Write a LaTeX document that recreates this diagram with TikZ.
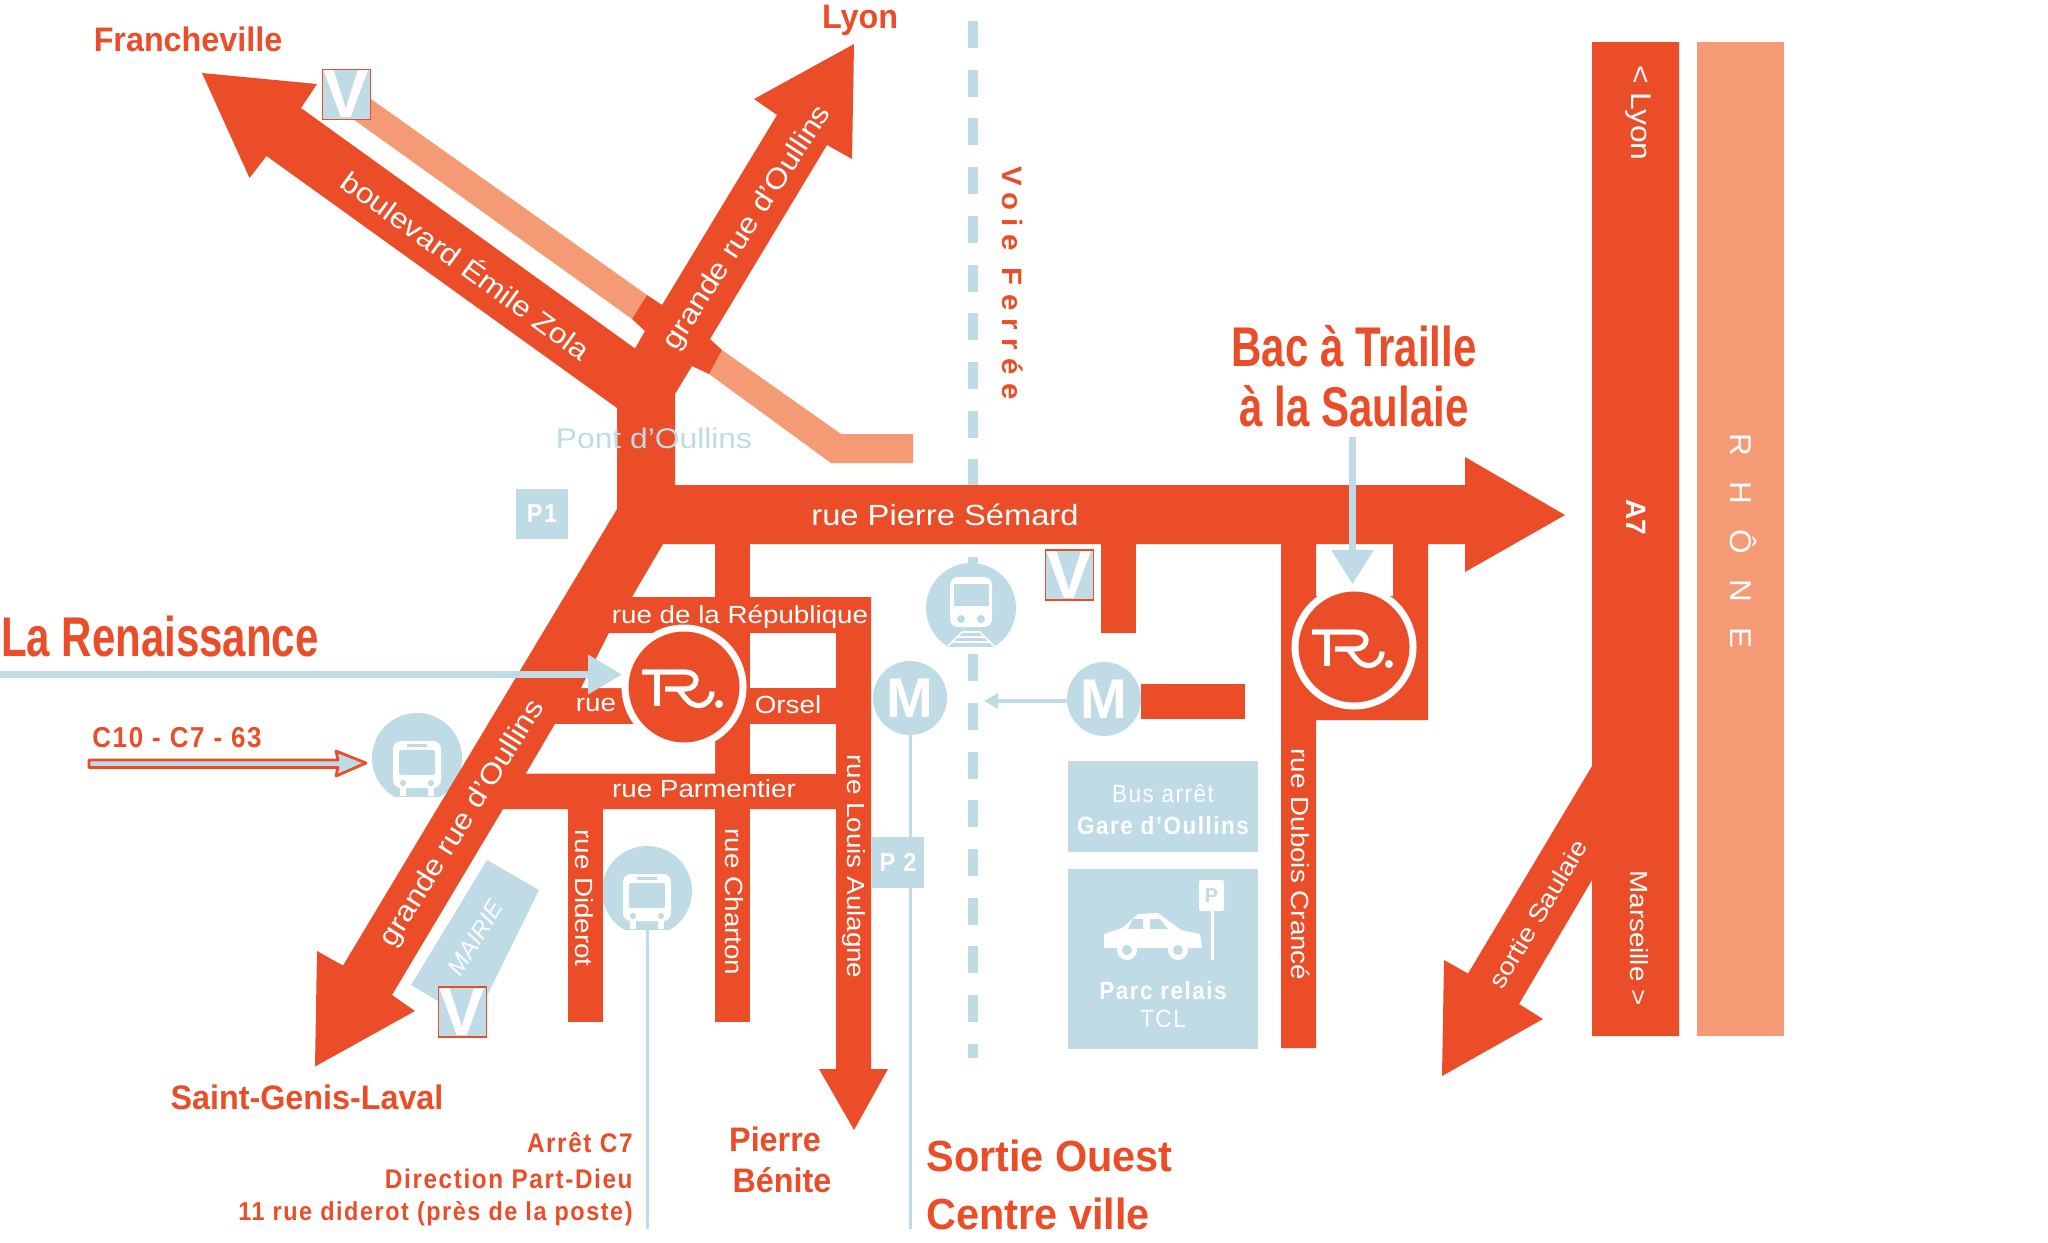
\documentclass[tikz,border=0pt]{standalone}
\usepackage{fontspec}
\usepackage{tikz}
\usetikzlibrary{arrows.meta}
\setmainfont{Liberation Sans}
\newfontfamily\widefont[FakeStretch=1.12]{Liberation Sans}
\newfontfamily\titlefont[FakeStretch=.75]{Liberation Sans}
\newfontfamily\namefont[FakeStretch=.95]{Liberation Sans}
\newfontfamily\condfont[FakeStretch=.9,LetterSpace=6]{Liberation Sans}
\newfontfamily\railfont[FakeStretch=1.05,LetterSpace=30]{Liberation Sans}
\newfontfamily\riverfont[FakeStretch=1.05,LetterSpace=85]{Liberation Sans}
\definecolor{roadred}{HTML}{EA4D27}
\definecolor{salmon}{HTML}{F49B76}
\definecolor{paleblue}{HTML}{BEDBE6}
\tikzset{
	road/.style={fill=roadred},
	band/.style={fill=salmon},
	block/.style={fill=paleblue},
	streetlabel/.style={text=white,inner sep=0pt,font=\widefont\fontsize{12.4}{14}\selectfont},
	bigstreet/.style={text=white,inner sep=0pt,font=\widefont\fontsize{14.2}{16}\selectfont},
	titlelabel/.style={text=roadred,inner sep=0pt,align=center,font=\titlefont\bfseries\fontsize{28}{30}\selectfont},
	namelabel/.style={text=roadred,inner sep=0pt,align=center,font=\namefont\bfseries\fontsize{17}{19}\selectfont},
	infolabel/.style={text=roadred,inner sep=0pt,font=\condfont\bfseries\fontsize{13.5}{15}\selectfont},
	boxlabel/.style={text=white,inner sep=0pt,font=\condfont\fontsize{12.5}{14}\selectfont},
	logodisc/.style={circle,fill=roadred,draw=white,line width=3.5pt,minimum size=59pt,inner sep=0pt,outer sep=0pt},
	metrodisc/.style={circle,fill=paleblue,text=white,minimum size=37pt,inner sep=0pt,font=\bfseries\fontsize{28}{28}\selectfont},
	vbox/.style={fill=paleblue,draw=roadred,line width=.9pt,text=white,minimum width=24pt,minimum height=25pt,inner sep=0pt,font=\bfseries\fontsize{34}{34}\selectfont},
	pbox/.style={fill=paleblue,text=white,minimum width=26pt,inner sep=0pt,font=\condfont\bfseries\fontsize{13}{14}\selectfont},
	linkline/.style={draw=paleblue,line width=1.5pt},
	pointer/.style={draw=paleblue,line width=3.5pt},
}
% logo and stop icons, drawn around a named point
\newcommand{\logomark}[1]{
	\begin{scope}[shift={(#1)},draw=white,line width=2.6pt]
		\draw (-42,-15) -- (1,-15) .. controls (8,-15) and (12,-11) .. (12,-7) .. controls (12,-2) and (8,2) .. (1,2) -- (-19,2);
		\draw (-27,-15) -- (-27,19);
		\draw (-6,2) .. controls (0,8) and (4,18) .. (14,18.5) .. controls (22,19) and (28,12) .. (28,4.5);
		\fill[white] (35,17) circle[radius=4];
	\end{scope}
}
\newcommand{\stopdisc}{
	\begin{scope}
		\clip (-50,-50) rectangle (50,38);
		\fill[paleblue] (0,0) circle[radius=45];
	\end{scope}
}
\newcommand{\busicon}[1]{
	\begin{scope}[shift={(#1)}]
		\stopdisc
		\fill[white,rounded corners=4pt] (-24,-17) rectangle (24,30);
		\fill[white] (-17,30) rectangle (-11,38);
		\fill[white] (11,30) rectangle (17,38);
		\fill[paleblue,rounded corners=1pt] (-18,-8) rectangle (18,17);
		\fill[paleblue] (-10,-14.5) rectangle (10,-11.5);
		\fill[paleblue] (-14,25) circle[radius=3];
		\fill[paleblue] (14,25) circle[radius=3];
	\end{scope}
}
\newcommand{\trainicon}[1]{
	\begin{scope}[shift={(#1)}]
		\stopdisc
		\fill[white,rounded corners=4pt] (-21,-31) rectangle (21,19);
		\fill[paleblue] (-17.5,-24) rectangle (17.5,-2);
		\fill[paleblue] (-10,11) circle[radius=4];
		\fill[paleblue] (10,11) circle[radius=4];
		\draw[white,line width=.8pt] (-23,38) -- (-9,24) -- (9,24) -- (23,38);
		\draw[white,line width=.8pt] (-14,29) -- (14,29) (-19,34) -- (19,34);
	\end{scope}
}
\begin{document}
\begin{tikzpicture}[x=.5pt,y=-.5pt]
	\useasboundingbox (0,0) rectangle (2048,1242);
	% railway
	\draw[paleblue,line width=5pt,dash pattern=on 13.5pt off 10.85pt] (973,21) -- (973,1058);
	% stops
	\coordinate (busA) at (417,758);
	\coordinate (busB) at (647,891);
	\coordinate (trainStop) at (971,608);
	\busicon{busA}
	\busicon{busB}
	\trainicon{trainStop}
	% salmon bands
	\fill[band] (371,99) -- (647,295) -- (632,319) -- (353,119) -- cycle;
	\fill[band] (722,350) -- (841,434) -- (913,434) -- (913,463) -- (831,463) -- (709,374) -- cycle;
	\fill[band] (1697,42) rectangle (1784,1036);
	% main roads
	\fill[road] (202,73) -- (317,84) -- (301,108) -- (635,348.5) -- (645,331) -- (632,319) -- (647,295) -- (662,305)
		-- (777,115) -- (754,99) -- (854,44) -- (852,159) -- (827,145) -- (710,339) -- (722,350) -- (709,374)
		-- (692,366) -- (675,394) -- (675,485) -- (1465,485) -- (1465,457) -- (1565,515) -- (1465,572) -- (1465,544)
		-- (663,544) -- (632,597) -- (871,597) -- (871,1069) -- (888,1069) -- (854,1130) -- (819,1069) -- (836,1069)
		-- (836,809) -- (503,809) -- (392,995) -- (415,1011) -- (315,1066.5) -- (317,951) -- (343,965.5) -- (617,509)
		-- (617,408) -- (266.5,156) -- (249.5,178) -- cycle;
	\fill[white] (609,633) -- (715,633) -- (715,688) -- (581,688) -- cycle;
	\fill[white] (750,633) rectangle (836,688);
	\fill[white] (555,724) -- (715,724) -- (715,773.5) -- (526,773.5) -- cycle;
	\fill[white] (750,724) rectangle (836,773.5);
	% side streets
	\fill[road] (715,544) rectangle (750,597);
	\fill[road] (715,809) rectangle (750,1022);
	\fill[road] (568,809) rectangle (603,1022);
	\fill[road] (1101,544) rectangle (1136,633);
	\fill[road] (1141,684) rectangle (1245,719);
	\fill[road] (1281,544) -- (1316,544) -- (1316,596) -- (1393,596) -- (1393,544) -- (1428,544) -- (1428,720)
		-- (1316,720) -- (1316,1048) -- (1281,1048) -- cycle;
	% motorway
	\fill[road] (1592,42) -- (1679,42) -- (1679,1036) -- (1592,1036) -- (1592,880) -- (1519,1004) -- (1543,1019)
		-- (1442,1076) -- (1444,960) -- (1468,973.5) -- (1592,766) -- cycle;
	% blue blocks
	\fill[block] (487,860) -- (539,890) -- (485,1000) -- (438,1001) -- (411,985) -- cycle;
	\node[pbox,minimum height=25pt] (parkA) at (542,514) {P1};
	\fill[block] (1068,761) rectangle (1258,851.5);
	\fill[block] (1068,869) rectangle (1258,1049);
	% parking icon
	\fill[white] (1104,948) -- (1104,934) -- (1122,928) -- (1138,914) -- (1158,913) -- (1181,930) -- (1200,934) -- (1202,948) -- cycle;
	\fill[paleblue] (1133,919) -- (1143,919) -- (1143,929) -- (1128,929) -- cycle;
	\fill[paleblue] (1150,919) -- (1160,919) -- (1168,929) -- (1150,929) -- cycle;
	\foreach \wheel in {1127,1178}{
		\fill[white] (\wheel,950) circle[radius=10];
		\fill[paleblue] (\wheel,950) circle[radius=5];
	}
	\fill[white] (1210.5,905) rectangle (1213.5,960);
	\node[fill=white,text=paleblue,minimum width=12.5pt,minimum height=15.5pt,inner sep=0pt,rounded corners=1pt,font=\bfseries\fontsize{10}{10}\selectfont] (parkSign) at (1211.5,895.5) {P};
	% metro and links
	\node[metrodisc] (metroA) at (910,698) {M};
	\node[metrodisc] (metroB) at (1104,699) {M};
	\coordinate (metroEnd) at (910,1229);
	\coordinate (busEnd) at (647,1229);
	\coordinate (railPoint) at (984,701);
	\draw[linkline] (metroA) -- (metroEnd);
	\draw[linkline] (busB) ++(0,38) -- (busEnd);
	\draw[linkline,line width=2pt,-{Triangle[length=7pt,width=7.5pt]}] (metroB.west |- railPoint) -- (railPoint);
	\node[pbox,minimum height=25.5pt] (parkB) at (898,862.5) {P 2};
	% logos
	\node[logodisc] (logoA) at (684,687) {};
	\node[logodisc] (logoB) at (1354,647) {};
	\logomark{logoA}
	\logomark{logoB}
	% parking boxes with V
	\node[vbox] (veloA) at (346.5,94.5) {V};
	\node[vbox] (veloB) at (1069.5,575) {V};
	\node[vbox] (veloC) at (462.5,1012) {V};
	% pointers
	\coordinate (renStart) at (0,674.5);
	\coordinate (renEnd) at (622,674.5);
	\coordinate (bacStart) at (1352.5,437);
	\coordinate (bacEnd) at (1352.5,584);
	\draw[pointer,-{Triangle[length=17pt,width=19pt]}] (renStart) -- (renEnd);
	\draw[pointer,-{Triangle[length=17pt,width=20.5pt]}] (bacStart) -- (bacEnd);
	\fill[paleblue,draw=roadred,line width=1.4pt,line join=round,line cap=round] (89,760) -- (338,760) -- (336,751) -- (366,763) -- (336,776) -- (338,767.5) -- (89,767.5) -- cycle;
	% titles
	\node[titlelabel] (renaissance) at (160,636) {La Renaissance};
	\node[titlelabel] (bacLabel) at (1354,376) {Bac à Traille\\[0pt]à la Saulaie};
	\node[namelabel] (franche) at (188,39) {Francheville};
	\node[namelabel] (lyonLabel) at (860,20) {Lyon};
	\node[namelabel] (genis) at (307,1097) {Saint-Genis-Laval};
	\node[namelabel] (pierre) at (775,1139) {Pierre};
	\node[namelabel] (benite) at (782,1180) {Bénite};
	\node[text=roadred,inner sep=0pt,anchor=west,font=\namefont\bfseries\fontsize{21.8}{24}\selectfont] (sortie) at (926,1156) {Sortie Ouest};
	\node[text=roadred,inner sep=0pt,anchor=west,font=\namefont\bfseries\fontsize{21.8}{24}\selectfont] (centre) at (926,1214) {Centre ville};
	\node[text=paleblue,inner sep=0pt,font=\widefont\fontsize{14.2}{16}\selectfont] (pont) at (654,438) {Pont d’Oullins};
	\node[text=roadred,inner sep=0pt,rotate=-90,font=\railfont\bfseries\fontsize{14}{16}\selectfont] (voie) at (1013,283) {Voie Ferrée};
	% street names
	\node[bigstreet,font=\widefont\fontsize{14.6}{16}\selectfont] (semard) at (945,515) {rue Pierre Sémard};
	\node[streetlabel] (republique) at (740,617) {rue de la République};
	\node[streetlabel] (parmentier) at (704,789) {rue Parmentier};
	\node[streetlabel] (rueLabel) at (596,705) {rue};
	\node[streetlabel] (orsel) at (788,705) {Orsel};
	\node[bigstreet,rotate=-36] (zola) at (467,264) {boulevard Émile Zola};
	\node[bigstreet,rotate=57] (grandeA) at (748,228) {grande rue d’Oullins};
	\node[bigstreet,rotate=58] (grandeB) at (463,824) {grande rue d’Oullins};
	\node[streetlabel,rotate=-90] (diderot) at (584,898) {rue Diderot};
	\node[streetlabel,rotate=-90] (charton) at (734,902) {rue Charton};
	\node[streetlabel,rotate=-90] (aulagne) at (854,866.5) {rue Louis Aulagne};
	\node[streetlabel,rotate=-90] (crance) at (1300,864.5) {rue Dubois Crancé};
	\node[streetlabel,rotate=59] (saulaie) at (1538,914) {sortie Saulaie};
	\node[bigstreet,rotate=-90] (lyonSign) at (1638,113) {< Lyon};
	\node[streetlabel,rotate=-90] (marseille) at (1639,938) {Marseille >};
	\node[streetlabel,rotate=-90,font=\bfseries\fontsize{14}{16}\selectfont] (autoroute) at (1636,517) {A7};
	\node[text=white,inner sep=0pt,rotate=-90,font=\riverfont\fontsize{15}{17}\selectfont] (rhone) at (1743,541) {RHÔNE};
	\node[text=white,inner sep=0pt,rotate=58,font=\itshape\fontsize{12}{14}\selectfont] (mairie) at (475.5,938) {MAIRIE};
	% bus and car texts
	\node[infolabel,font=\condfont\bfseries\fontsize{14.4}{16}\selectfont] (lines) at (177,738) {C10 - C7 - 63};
	\node[infolabel,anchor=east] (arretA) at (633,1143) {Arrêt C7};
	\node[infolabel,anchor=east] (arretB) at (633,1179) {Direction Part-Dieu};
	\node[infolabel,anchor=east,font=\condfont\bfseries\fontsize{13}{15}\selectfont] (arretC) at (633,1214) {11 rue diderot (près de la poste)};
	\node[boxlabel] (busArret) at (1163,794) {Bus arrêt};
	\node[boxlabel,font=\condfont\bfseries\fontsize{12.5}{14}\selectfont] (gare) at (1163,826) {Gare d’Oullins};
	\node[boxlabel,font=\condfont\bfseries\fontsize{12.5}{14}\selectfont] (parc) at (1163,991) {Parc relais};
	\node[boxlabel] (tcl) at (1163,1019) {TCL};
\end{tikzpicture}
\end{document}
